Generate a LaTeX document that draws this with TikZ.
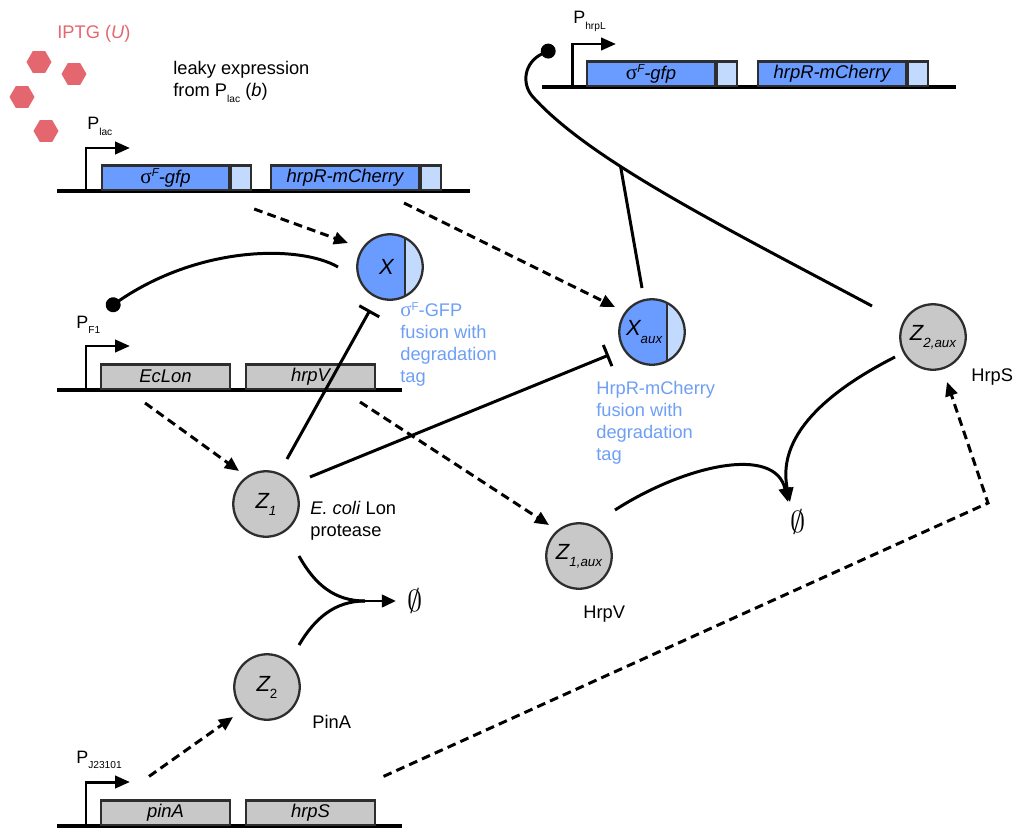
\documentclass[tikz,border=0pt]{standalone}
\usepackage{fontspec}
\setmainfont{Liberation Sans}
\newfontfamily\greekfont{Liberation Serif}
\usetikzlibrary{arrows.meta,shapes.geometric}

\definecolor{genblue}{HTML}{6A9BFF}
\definecolor{tagblue}{HTML}{C3DAFF}
\definecolor{protgray}{HTML}{C8C8C8}
\definecolor{edgegray}{HTML}{2E2E2E}
\definecolor{noteblue}{HTML}{6E9FF5}
\definecolor{iptgred}{HTML}{E4666E}

\newcommand{\lowsub}[1]{\raisebox{-4pt}{\fontsize{7.6}{8}\selectfont #1}}
\newcommand{\psub}[1]{\raisebox{-3.4pt}{\fontsize{5.8}{6}\selectfont #1}}
\newcommand{\sigmaF}{{\greekfont\upshape\fontsize{12}{12}\selectfont σ}\raisebox{3.8pt}{\fontsize{6.5}{7}\selectfont F}}

\begin{document}
\begin{tikzpicture}[x=0.02cm, y=-0.02cm,
    every node/.style={font=\fontsize{10.4}{12.5}\selectfont},
    gene/.style={draw=edgegray, line width=1.2pt, anchor=south west, minimum height=0.49cm, inner sep=0pt, font=\fontsize{10.5}{12}\selectfont\itshape},
    cds/.style={gene, fill=genblue},
    tag/.style={gene, fill=tagblue, minimum width=0.4cm},
    greygene/.style={gene, fill=protgray, minimum width=2.58cm},
    species/.style={circle, draw=edgegray, line width=1.3pt, fill=protgray, minimum size=1.31cm, inner sep=0pt, font=\fontsize{12.5}{14}\selectfont\itshape},
    fusion/.style={species, fill=genblue, path picture={
        \fill[tagblue] ([xshift=0.3cm]path picture bounding box.south) rectangle (path picture bounding box.north east);
        \draw[line width=1.4pt] ([xshift=0.3cm]path picture bounding box.south) -- ([xshift=0.3cm]path picture bounding box.north);}},
    promoter/.style={line width=1.7pt, -{Triangle[length=8.5pt,width=7pt]}},
    backbone/.style={line width=2.2pt},
    act/.style={line width=1.7pt, -{Triangle[length=8pt,width=7pt]}},
    dashact/.style={act, dash pattern=on 5pt off 3pt},
    inh/.style={line width=1.7pt, -{Bar[width=13pt]}},
    bind/.style={line width=1.7pt, -{Circle[length=8.5pt]}},
    desc/.style={anchor=north west, align=left, inner sep=0pt},
    note/.style={desc, text=noteblue},
    plabel/.style={anchor=base west, inner sep=0pt, font=\fontsize{10.2}{12}\selectfont},
    sink/.style={inner sep=0pt, font=\fontsize{17}{19}\selectfont},
    iptg/.style={regular polygon, regular polygon sides=6, fill=iptgred, minimum size=0.5cm, inner sep=0pt}]
    \useasboundingbox (0,0) rectangle (1014,828);

    % inducer
    \node[anchor=base west, inner sep=0pt, text=iptgred] at (57,39) (iptglabel) {IPTG (\textit{U})};
    \foreach \px/\py [count=\i] in {39/62, 74/74, 22/97, 46/131}
        \node[iptg] at (\px,\py) (iptg\i) {};
    \node[desc] at (173,61) (leaky) {leaky expression\\from P\psub{lac} (\textit{b})};

    % promoters and backbones
    \coordinate (Plac) at (86,191);
    \coordinate (PhrpL) at (572,87);
    \coordinate (PF1) at (86,390);
    \coordinate (PJ) at (86,826);
    \draw[backbone] (Plac) ++(-29,0) -- ++(413,0);
    \draw[backbone] (PhrpL) ++(-30,0) -- ++(414,0);
    \draw[backbone] (PF1) ++(-29,0) -- ++(345,0);
    \draw[backbone] (PJ) ++(-29,0) -- ++(345,0);
    \draw[promoter] (Plac) -- ++(0,-43) -- ++(44,0);
    \draw[promoter] (PhrpL) -- ++(0,-43) -- ++(44,0);
    \draw[promoter] (PF1) -- ++(0,-44) -- ++(44,0);
    \draw[promoter] (PJ) -- ++(0,-44) -- ++(44,0);
    \node[plabel] at (87,130) (Placlabel) {P\psub{lac}};
    \node[plabel] at (573,24) (PhrpLlabel) {P\psub{hrpL}};
    \node[plabel] at (76,328) (PF1label) {P\psub{F1}};
    \node[plabel] at (76,763) (PJlabel) {P\psub{J23101}};

    % genes
    \node[cds, minimum width=2.54cm] at (101,191) (lacgfp) {\sigmaF-gfp};
    \node[tag] at (lacgfp.south east) (lacgfptag) {};
    \node[cds, minimum width=2.96cm] at (270,191) (lachrpR) {hrpR-mCherry};
    \node[tag] at (lachrpR.south east) (lachrpRtag) {};
    \node[cds, minimum width=2.56cm] at (586,87) (hrpLgfp) {\sigmaF-gfp};
    \node[tag] at (hrpLgfp.south east) (hrpLgfptag) {};
    \node[cds, minimum width=2.96cm] at (757,87) (hrpLhrpR) {hrpR-mCherry};
    \node[tag] at (hrpLhrpR.south east) (hrpLhrpRtag) {};
    \node[greygene] at (100,390) (ecLon) {EcLon};
    \node[greygene] at (245,390) (hrpV) {hrpV};
    \node[greygene] at (100,826) (pinA) {pinA};
    \node[greygene] at (245,826) (hrpS) {hrpS};

    % species
    \node[fusion] at (390,267) (X) {X\kern4pt};
    \node[fusion] at (652,332) (Xaux) {X\lowsub{aux}\kern9pt};
    \node[species] at (266,504) (Z1) {Z\lowsub{1}};
    \node[species] at (267,687) (Z2) {Z\lowsub{\upshape 2}};
    \node[species] at (579,556) (Z1aux) {Z\lowsub{1,aux}};
    \node[species] at (933,337) (Z2aux) {Z\lowsub{2,aux}};
    \node[sink] at (415,601) (sink1) {$\emptyset$};
    \node[sink] at (798,522) (sink2) {$\emptyset$};

    % labels
    \node[note] at (400,302) (gfpnote) {\sigmaF-GFP\\fusion with\\degradation\\tag};
    \node[note] at (596,381) (mchnote) {HrpR-mCherry\\fusion with\\degradation\\tag};
    \node[desc] at (310,501) (lonnote) {\textit{E. coli} Lon\\protease};
    \node[desc, anchor=base west] at (312,728) (pinAnote) {PinA};
    \node[desc, anchor=base west] at (583,618) (hrpVnote) {HrpV};
    \node[desc, anchor=base west] at (971,381) (hrpSnote) {HrpS};

    % expression
    \draw[dashact] ([shift={(2,18)}]lacgfptag.south east) -- ([shift={(-42,-24)}]X.center);
    \draw[dashact] ([shift={(59,12)}]lachrpR.south) -- ([shift={(-37,-25)}]Xaux.center);
    \draw[dashact] ([shift={(-20.5,13)}]ecLon.south) -- ([shift={(-27,-33)}]Z1.center);
    \draw[dashact] ([shift={(49.5,12)}]hrpV.south) -- ([shift={(-30,-31)}]Z1aux.center);
    \draw[dashact] ([shift={(-16.5,-23)}]pinA.north) -- ([shift={(-34,30)}]Z2.center);
    \coordinate (hrpSbend) at (988,503);
    \draw[dashact] ([shift={(73,-23)}]hrpS.north) -- (hrpSbend) -- ([shift={(14,45)}]Z2aux.center);

    % activation of the promoters
    \coordinate (PF1dot) at (107,309);
    \coordinate (hrpLdot) at (555,48);
    \draw[bind] ([shift={(-52,0)}]X.center) .. controls (300,245) and (200,245) .. (PF1dot);
    \draw[bind] ([shift={(-61,-31)}]Z2aux.center) .. controls (720,225) and (590,160) .. (533,97) coordinate[pos=0.64] (joint)
        .. controls (521,84) and (524,62) .. (hrpLdot);
    \draw[line width=1.7pt] ([shift={(-10,-44)}]Xaux.center) -- (joint);

    % degradation
    \draw[inh] ([shift={(21,-45)}]Z1.center) -- ([shift={(-20,43)}]X.center);
    \draw[inh] ([shift={(44,-27)}]Z1.center) -- ([shift={(-43,23)}]Xaux.center);
    \coordinate (merge) at (365,601);
    \draw[line width=1.7pt] ([shift={(33,52)}]Z1.center) .. controls (315,585) and (335,601) .. (merge);
    \draw[line width=1.7pt] ([shift={(32,-42)}]Z2.center) .. controls (315,618) and (335,601) .. (merge);
    \draw[act] (merge) -- ([shift={(-19,0)}]sink1.center);
    \draw[act] ([shift={(36,-46)}]Z1aux.center) .. controls (685,465) and (775,445) .. ([shift={(-10,-20)}]sink2.center);
    \draw[act] ([shift={(-38,20)}]Z2aux.center) .. controls (840,385) and (775,430) .. ([shift={(-8,-20)}]sink2.center);
\end{tikzpicture}
\end{document}
